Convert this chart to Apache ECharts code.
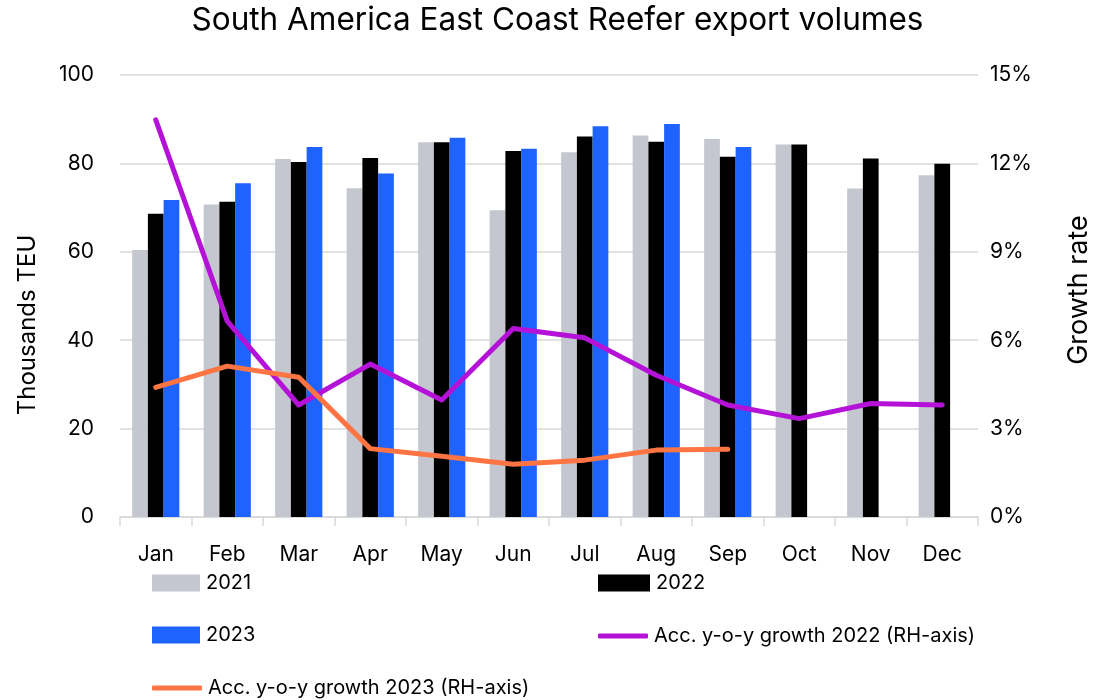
<!DOCTYPE html>
<html>
<head>
<meta charset="utf-8">
<script src="https://cdn.jsdelivr.net/npm/echarts@6/dist/echarts.min.js"></script>
<style>
  html, body { margin: 0; padding: 0; background: #fff; }
  #chart { width: 1115px; height: 700px; }
</style>
</head>
<body>
<div id="chart"></div>
<script>
var months = ['Jan', 'Feb', 'Mar', 'Apr', 'May', 'Jun', 'Jul', 'Aug', 'Sep', 'Oct', 'Nov', 'Dec'];
var vol2021 = [60.4, 70.7, 81.0, 74.4, 84.8, 69.4, 82.5, 86.3, 85.5, 84.3, 74.3, 77.3];
var vol2022 = [68.6, 71.3, 80.3, 81.2, 84.8, 82.8, 86.1, 84.9, 81.5, 84.3, 81.1, 79.9];
var vol2023 = [71.7, 75.5, 83.7, 77.7, 85.8, 83.3, 88.4, 88.9, 83.7, null, null, null];
var growth2022 = [13.48, 6.65, 3.80, 5.19, 3.97, 6.40, 6.08, 4.81, 3.80, 3.34, 3.85, 3.80];
var growth2023 = [4.40, 5.12, 4.74, 2.32, 2.06, 1.79, 1.93, 2.27, 2.30, null, null, null];

var font = 'Inter';
var name22 = 'Acc. y-o-y growth 2022 (RH-axis)';
var name23 = 'Acc. y-o-y growth 2023 (RH-axis)';

var chart = echarts.init(document.getElementById('chart'));
var legendText = { fontFamily: font, fontSize: 20, color: '#000', padding: [0, 0, 0, 1] };

// bar entries use blocks, line entries use thin rounded strokes
function barLegend(left, top, names, w) {
  return {
    orient: 'vertical', left: left, top: top, height: 200,
    itemWidth: w, itemHeight: 17, itemGap: 32, icon: 'rect',
    textStyle: legendText, data: names
  };
}
function lineLegend(left, top, names) {
  return {
    orient: 'vertical', left: left, top: top + 1,
    itemWidth: 50, itemHeight: 5, icon: 'roundRect',
    textStyle: legendText, data: names
  };
}

var option = {
  textStyle: { fontFamily: font },
  animation: false,
  title: {
    text: 'South America East Coast Reefer export volumes',
    left: 'center',
    top: 0,
    textStyle: { fontFamily: font, fontSize: 31.5, fontWeight: 'normal', color: '#000' }
  },
  legend: [
    barLegend(147, 568, ['2021', '2023'], 48),
    barLegend(593, 568, ['2022'], 52),
    lineLegend(147, 672, [name23]),
    lineLegend(593, 620, [name22])
  ],
  grid: { left: 120, right: 137, top: 75, bottom: 183 },
  xAxis: {
    type: 'category',
    data: months,
    axisLine: { lineStyle: { color: '#d9d9d9', width: 1.5 } },
    axisTick: { show: true, length: 9, lineStyle: { color: '#d9d9d9', width: 1.5 } },
    axisLabel: { color: '#000', fontSize: 21, margin: 27, fontFamily: font }
  },
  yAxis: [
    {
      type: 'value',
      min: 0,
      max: 100,
      interval: 20,
      name: 'Thousands TEU',
      nameLocation: 'middle',
      nameGap: 80,
      nameTextStyle: { fontSize: 24, color: '#000', fontFamily: font, padding: [0, 58, 0, 0] },
      axisLine: { show: false },
      axisTick: { show: false },
      axisLabel: { color: '#000', fontSize: 21, margin: 26, fontFamily: font },
      splitLine: { lineStyle: { color: '#d9d9d9', width: 1.5 } }
    },
    {
      type: 'value',
      min: 0,
      max: 15,
      interval: 3,
      name: 'Growth rate',
      nameLocation: 'middle',
      nameGap: 87,
      nameRotate: 90,
      nameTextStyle: { fontSize: 27, color: '#000', fontFamily: font, padding: [0, 0, 0, 12] },
      axisLine: { show: false },
      axisTick: { show: false },
      axisLabel: { color: '#000', fontSize: 21, margin: 12, formatter: '{value}%', fontFamily: font },
      splitLine: { show: false }
    }
  ],
  series: [
    {
      name: '2021',
      type: 'bar',
      data: vol2021,
      barGap: '0%',
      barCategoryGap: '34%',
      itemStyle: { color: '#c4c7cf' }
    },
    {
      name: '2022',
      type: 'bar',
      data: vol2022,
      itemStyle: { color: '#000000' }
    },
    {
      name: '2023',
      type: 'bar',
      data: vol2023,
      itemStyle: { color: '#1f63ff' }
    },
    {
      name: name22,
      type: 'line',
      yAxisIndex: 1,
      data: growth2022,
      symbol: 'none',
      lineStyle: { color: '#b512d8', width: 5, cap: 'round', join: 'round' },
      itemStyle: { color: '#b512d8' }
    },
    {
      name: name23,
      type: 'line',
      yAxisIndex: 1,
      data: growth2023,
      symbol: 'none',
      lineStyle: { color: '#ff7443', width: 5, cap: 'round', join: 'round' },
      itemStyle: { color: '#ff7443' }
    }
  ]
};
option && chart.setOption(option);
</script>
</body>
</html>
